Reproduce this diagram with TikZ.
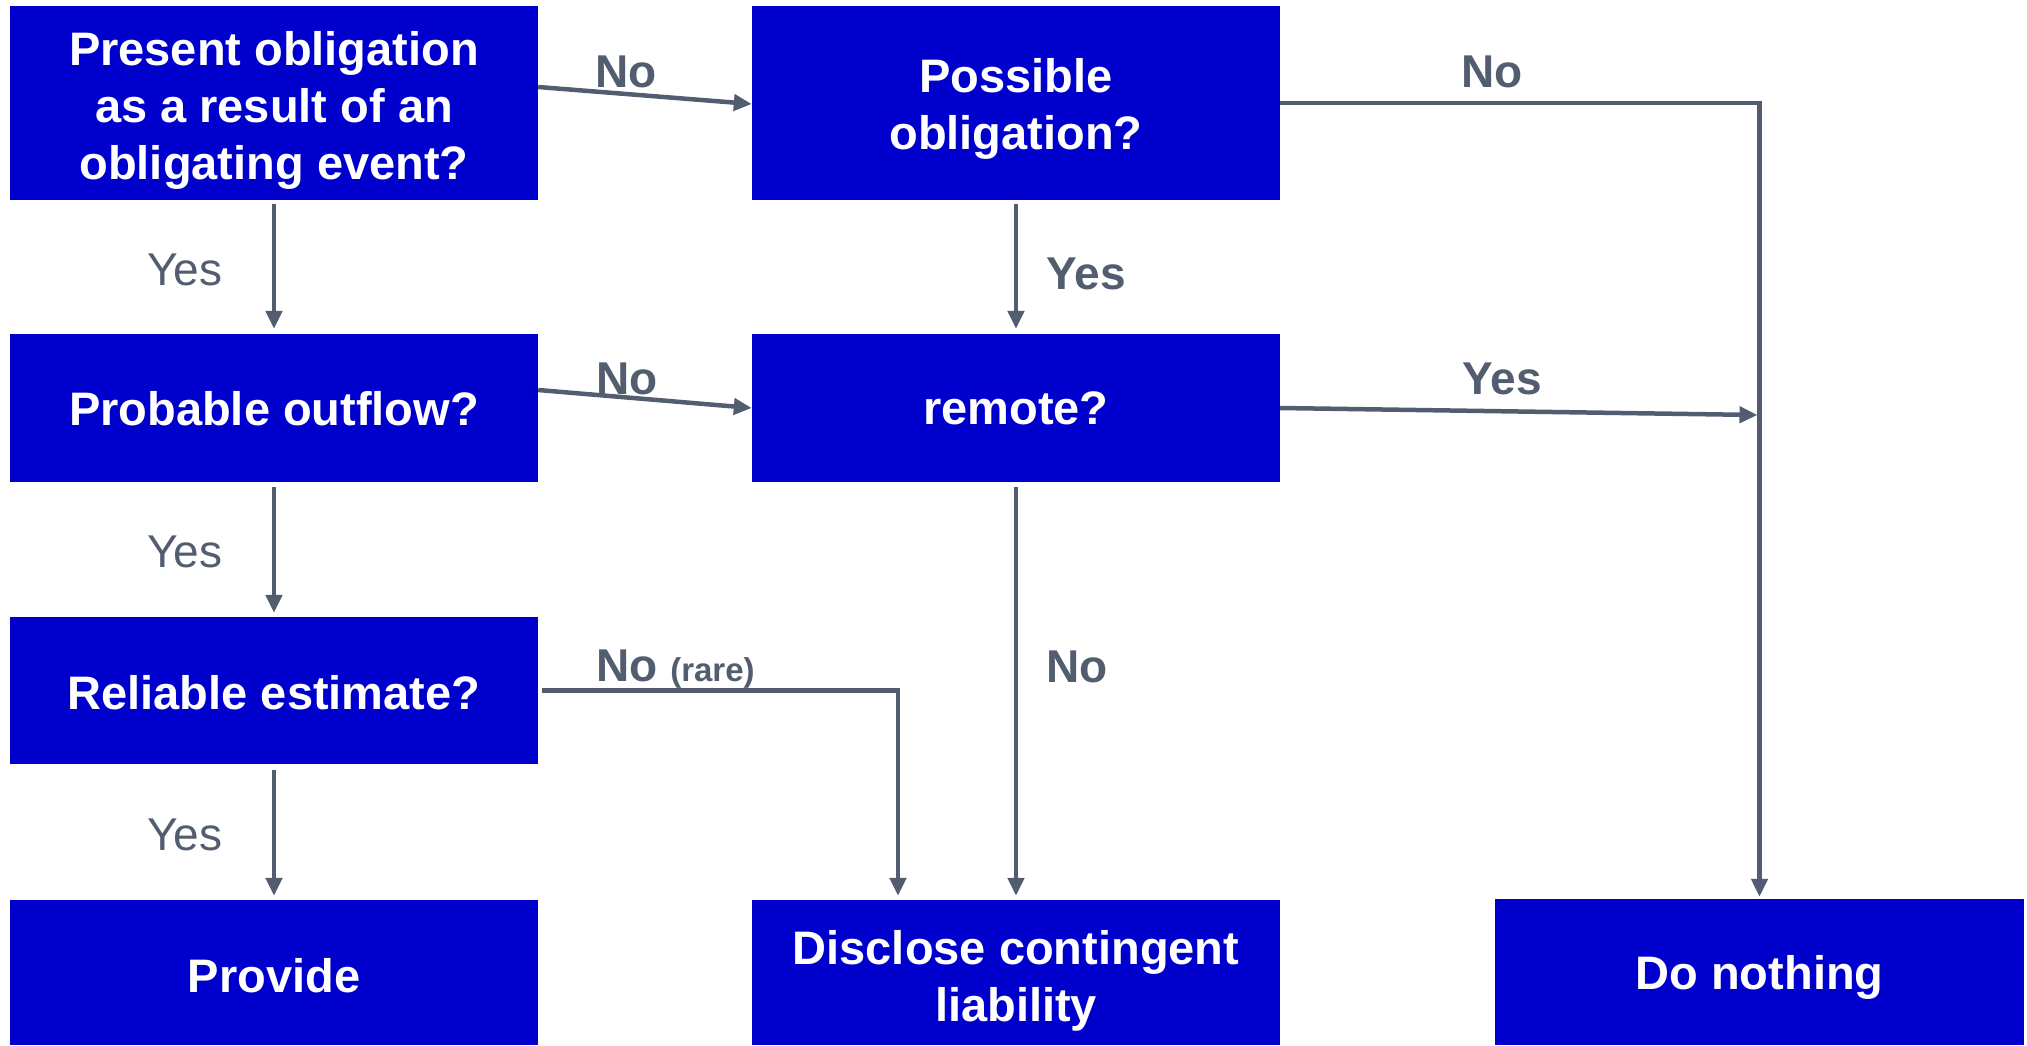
\documentclass[tikz,border=0pt]{standalone}
\usepackage{fontspec}
\setmainfont{Liberation Sans}
\usetikzlibrary{arrows.meta,calc}
\definecolor{boxblue}{RGB}{0,0,204}
\definecolor{linegray}{RGB}{82,94,112}
\begin{document}
\begin{tikzpicture}[x=1pt,y=-1pt,
 box/.style={fill=boxblue, draw=none, minimum width=528pt, inner sep=0pt},
 boxtext/.style={text=white, font=\fontsize{47}{57}\selectfont\bfseries, align=center, inner sep=0pt, anchor=north},
 conn/.style={draw=linegray, line width=4.5pt, -{Triangle[width=16pt,length=18pt]}},
 lbl/.style={text=linegray, font=\fontsize{46}{55}\selectfont, inner sep=0pt, anchor=base},
 blbl/.style={lbl, font=\fontsize{46}{55}\selectfont\bfseries}]
\useasboundingbox (0,0) rectangle (2027,1045);
% boxes
\node[box, minimum height=194pt] (b1) at (274,103) {};
\node[box, minimum height=194pt] (b2) at (1016,103) {};
\node[box, minimum height=148pt] (b3) at (274,408) {};
\node[box, minimum height=148pt] (b4) at (1016,408) {};
\node[box, minimum height=147pt] (b5) at (274,690.5) {};
\node[box, minimum height=145pt] (b6) at (274,972.5) {};
\node[box, minimum height=145pt] (b7) at (1016,972.5) {};
\node[box, minimum height=146pt, minimum width=529pt] (dn) at (1759.5,972) {};
% box texts
\node[boxtext] (t1) at ($(b1.north)+(0,25)$) {Present obligation\\as a result of an\\obligating event?};
\node[boxtext] (t2) at ($(b2.north)+(0,52.5)$) {Possible\\obligation?};
\node[boxtext] (t3) at ($(b3.north)+(0,57.5)$) {Probable outflow?};
\node[boxtext] (t4) at ($(b4.north)+(0,57.5)$) {remote?};
\node[boxtext] (t5) at ($(b5.north)+(0,58)$) {Reliable estimate?};
\node[boxtext] (t6) at ($(b6.north)+(0,58)$) {Provide};
\node[boxtext] (t7) at ($(b7.north)+(0,30)$) {Disclose contingent\\liability};
\node[boxtext] (t8) at ($(dn.north)+(0,56)$) {Do nothing};
% connectors
\draw[conn] ($(b1.east)+(0,-16)$) -- ($(b2.west)+(0,1)$);
\draw[conn] (b2.east) -| ($(dn.north)+(0,-2)$);
\draw[conn] ($(b1.south)+(0,4)$) -- ($(b3.north)+(0,-5)$);
\draw[conn] ($(b2.south)+(0,4)$) -- ($(b4.north)+(0,-5)$);
\draw[conn] ($(b3.east)+(0,-18)$) -- (b4.west);
\draw[conn] (b4.east) -- ($(dn.north |- b4.east)+(-2,7)$);
\draw[conn] ($(b3.south)+(0,5)$) -- ($(b5.north)+(0,-4)$);
\draw[conn] ($(b4.south)+(0,5)$) -- ($(b7.north)+(0,-4)$);
\draw[conn] ($(b5.east)+(4,0)$) -| ($(b7.north)+(-118,-4)$);
\draw[conn] ($(b5.south)+(0,6)$) -- ($(b6.north)+(0,-4)$);
% labels
\node[blbl] (l1) at (626,87) {No};
\node[blbl] (l2) at (1492,87) {No};
\node[lbl] (l3) at (185,285) {Yes};
\node[blbl] (l4) at (1086,289) {Yes};
\node[blbl] (l5) at (627,394) {No};
\node[blbl] (l6) at (1502,394) {Yes};
\node[lbl] (l7) at (185,567) {Yes};
\node[blbl, anchor=base west] (l8) at (596,681) {No \fontsize{33}{40}\selectfont(rare)};
\node[blbl] (l9) at (1077,682) {No};
\node[lbl] (l10) at (185,850) {Yes};
\end{tikzpicture}
\end{document}
